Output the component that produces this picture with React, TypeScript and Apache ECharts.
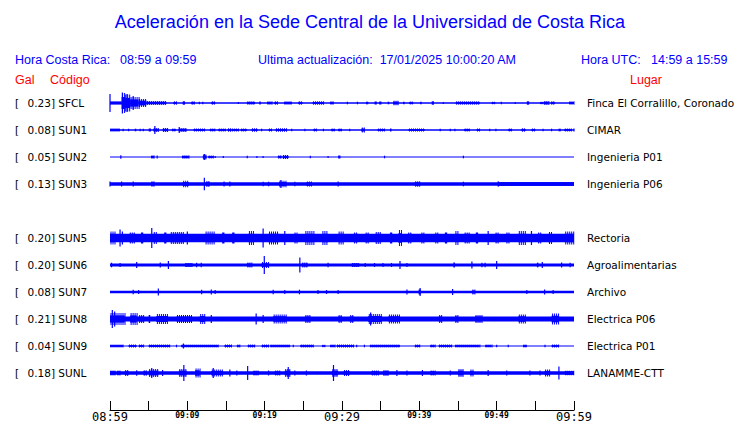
import React, { useEffect, useRef } from "react";
import * as echarts from "echarts";

// ---------- data ----------
const title = "Aceleración en la Sede Central de la Universidad de Costa Rica";
const localLabel = "Hora Costa Rica:";
const localRange = "08:59 a 09:59";
const updatedLabel = "Ultima actualización:  17/01/2025 10:00:20 AM";
const utcLabel = "Hora UTC:";
const utcRange = "14:59 a 15:59";
const startClock = [8, 59]; // hh, mm
const spanMinutes = 60;

const codes = ["SFCL", "SUN1", "SUN2", "SUN3", "SUN5", "SUN6", "SUN7", "SUN8", "SUN9", "SUNL"];
const peakGal = [0.23, 0.08, 0.05, 0.13, 0.2, 0.2, 0.08, 0.21, 0.04, 0.18];
const places = [
  "Finca El Corralillo, Coronado",
  "CIMAR",
  "Ingenieria P01",
  "Ingenieria P06",
  "Rectoria",
  "Agroalimentarias",
  "Archivo",
  "Electrica P06",
  "Electrica P01",
  "LANAMME-CTT",
];
// background noise half-amplitude of every trace
const baseAmp = [0.7, 0.7, 0.5, 1.7, 4.2, 1.5, 1.3, 2.5, 0.5, 1.7];

// bursts: [start minute, end minute, half amplitude]
const sfcl = [
  [0, 0, 9], [0, 1.5, 2], [1.5, 1.9, 10], [1.6, 1.6, 10.5], [1.9, 2.6, 8.5], [2.2, 2.2, 9], [2.6, 3.7, 6], [3.0, 3.0, 7],
  [3.7, 4.7, 4], [4.7, 7.3, 2], [8.2, 8.6, 1.7], [9.4, 9.7, 1.7], [10.5, 10.9, 1.7], [11.55, 11.55, 1.3], [12.0, 12.0, 1.3],
  [13.1, 13.6, 1.7], [16.6, 16.6, 1], [17.7, 18.75, 1.7], [19.3, 19.5, 1.5], [20.3, 20.9, 1.7], [21.25, 21.7, 1.7],
  [22.5, 23.5, 1.7], [24.35, 24.9, 1.7], [26.2, 27.6, 1.7], [28.45, 28.9, 1.7], [30.7, 30.7, 1.3], [32.0, 32.0, 1.3],
  [33.1, 33.4, 1.3], [34.2, 34.5, 1.5], [34.8, 35.1, 1.5], [35.9, 36.1, 1.3], [36.6, 37.3, 2.3], [37.9, 38.1, 1.3],
  [38.7, 39.2, 1.5], [40.1, 40.3, 1.3], [41.6, 41.9, 1.7], [43.1, 43.1, 1], [44.7, 47.8, 1.7], [49.35, 49.7, 1.3],
  [50.6, 50.6, 1.3], [52.4, 52.4, 1], [53.9, 54.2, 1.7], [55.6, 56.0, 1.3], [56.1, 56.7, 2], [57.0, 57.5, 1.7], [59.35, 60, 1.7],
];
const sun1 = [
  [0, 1.3, 1.7], [1.7, 1.7, 1.3], [2.4, 2.4, 1.3], [3.2, 3.4, 1.3], [3.9, 3.9, 1.3], [4.3, 4.3, 1.3], [5.0, 5.3, 1.5],
  [5.6, 6.2, 2], [5.8, 5.8, 4], [6.8, 7.5, 2], [8.0, 8.5, 1.5], [8.9, 9.9, 2], [8.95, 8.95, 3], [10.8, 12.3, 1.5],
  [12.9, 13.6, 1.5], [14.0, 15.0, 1.5], [15.2, 15.65, 1.7], [15.7, 16.6, 1.5], [16.9, 17.7, 1.5], [18.3, 19.1, 1.7],
  [19.6, 19.6, 1.3], [20.5, 20.9, 1.5], [21.4, 22.8, 1.7], [23.5, 23.5, 1.3], [25.2, 25.2, 1.3], [26.3, 26.7, 1.5],
  [27.6, 27.6, 1.3], [28.6, 29.1, 1.5], [29.5, 30.0, 1.5], [31.0, 31.0, 1.3], [32.5, 32.9, 2.5], [34.6, 35.5, 1.5],
  [36.2, 36.4, 1.5], [38.6, 40.7, 1.5], [42.7, 42.7, 1.3], [44.0, 44.0, 1.3], [44.6, 44.6, 1.3], [45.8, 46.55, 1.5],
  [47.4, 47.8, 1.5], [49.1, 49.1, 1.3], [49.9, 49.9, 1.3], [51.5, 52.0, 1.5], [53.2, 53.75, 1.7], [54.5, 55.0, 1.5],
  [56.0, 56.0, 1.3], [57.1, 57.1, 1.3], [58.0, 58.3, 1.3], [58.75, 59.7, 1.5], [60, 60, 1.5],
];
const sun2 = [
  [1.4, 1.4, 1.7], [5.3, 5.7, 1.7], [6.1, 6.1, 1.5], [9.3, 10.2, 1.7], [12.0, 12.5, 2.5], [12.2, 12.2, 3], [12.7, 13.4, 1.5],
  [13.6, 13.6, 1], [14.65, 14.65, 1], [17.75, 17.75, 1.3], [19.0, 19.0, 1], [19.8, 19.8, 1], [21.7, 22.2, 1.7],
  [22.3, 23.1, 2], [25.9, 25.9, 1.3], [28.2, 28.2, 1], [29.5, 29.8, 1.5], [35.5, 35.5, 1.3], [45.7, 45.7, 1.3],
];
const sun3 = [
  [0, 0, 2.5], [1.5, 1.5, 2.5], [3.0, 3.0, 2.5], [5.3, 5.7, 2.7], [9.4, 10.2, 3.3], [12.2, 12.2, 6.3], [12.4, 12.9, 3],
  [14.75, 14.75, 2.5], [15.5, 15.5, 2.5], [19.8, 19.8, 2.3], [20.5, 20.5, 2.3], [21.85, 22.8, 3.3], [22.1, 22.1, 4],
  [23.9, 23.9, 2.3], [25.4, 26.1, 2.5], [29.5, 29.5, 2.5], [39.4, 40.1, 2.7], [45.7, 45.7, 2.3], [50.2, 50.2, 2.7], [50.2, 60, 2],
];
const sun5 = [
  [0, 0.65, 6.5], [1.3, 1.3, 8.5], [1.6, 1.6, 6.5], [2.5, 3.2, 5.5], [4.0, 4.3, 5.5], [5.4, 5.4, 10], [5.6, 6.0, 6],
  [7.0, 7.3, 5.5], [7.8, 9.5, 6], [10.0, 10.0, 6.5], [12.3, 13.6, 6.5], [14.5, 14.8, 5.5], [15.8, 16.1, 5.5],
  [17.9, 18.5, 7], [19.8, 19.8, 9.5], [20.5, 21.8, 6.5], [22.6, 22.6, 7], [23.8, 24.2, 5.5], [25.2, 26.3, 7],
  [27.4, 28.2, 7], [29.5, 30.2, 6.5], [31.5, 32.0, 5.5], [33.0, 33.4, 5.5], [34.3, 35.1, 6], [36.2, 36.5, 5.5],
  [37.3, 37.7, 8], [38.5, 39.0, 5.5], [40.2, 40.6, 5.5], [42.0, 42.4, 5.5], [43.3, 43.6, 5.5], [44.6, 45.0, 7],
  [45.8, 46.5, 5.5], [47.3, 47.6, 5.5], [48.9, 48.9, 7], [49.8, 50.3, 5.5], [51.2, 51.6, 5.5], [52.8, 53.7, 7],
  [54.5, 54.5, 7], [55.3, 55.8, 5.5], [56.7, 57.2, 6], [58.8, 60, 6.5],
];
const sun6 = [
  [0.2, 0.2, 2.3], [1.3, 1.3, 2], [3.45, 3.45, 3], [6.5, 6.5, 2.5], [7.55, 7.55, 4], [9.7, 10.6, 2], [11.2, 11.2, 2.3],
  [11.8, 11.8, 2.3], [17.7, 18.3, 2.5], [19.6, 20.5, 3], [19.95, 19.95, 9], [24.55, 24.55, 7.5], [24.8, 25.6, 2.5],
  [28.2, 28.2, 2.3], [31.25, 32.1, 2], [33.0, 33.0, 2], [34.2, 34.2, 2], [35.3, 35.3, 2], [36.4, 36.4, 2], [37.5, 37.5, 4],
  [38.4, 38.4, 2], [44.4, 44.6, 2.5], [46.8, 46.8, 3.5], [48.1, 48.1, 2.3], [48.5, 48.5, 2.3], [50.0, 50.0, 4],
  [55.2, 55.4, 2.3], [55.9, 55.9, 3], [58.4, 58.4, 2.5], [59.5, 59.5, 2.3],
];
const sun7 = [
  [3.0, 3.0, 2.3], [3.7, 3.7, 2], [6.25, 6.25, 3.5], [11.85, 11.85, 2.3], [13.1, 13.1, 2.5], [13.6, 13.6, 2],
  [21.1, 21.1, 2.3], [22.6, 22.6, 2], [24.5, 24.5, 2.3], [26.9, 26.9, 2], [28.0, 28.0, 2], [29.5, 29.5, 2],
  [38.4, 38.4, 2.5], [39.9, 40.2, 2.5], [40.1, 40.1, 4], [44.3, 44.3, 3], [46.8, 47.2, 2.5], [53.9, 53.9, 2],
  [56.2, 56.2, 2.5], [57.3, 57.3, 2],
];
const sun8 = [
  [0, 1.9, 6], [0.3, 0.3, 9], [0.6, 0.6, 7.5], [2.6, 3.45, 6], [3.7, 4.3, 4], [5.0, 5.2, 4], [6.0, 7.5, 5], [8.6, 10.6, 4],
  [11.6, 12.3, 5], [13.1, 13.1, 4], [18.9, 18.9, 5.5], [19.8, 19.8, 4], [21.1, 22.8, 4.5], [25.2, 25.9, 4],
  [29.5, 30.0, 4], [31.0, 31.5, 4], [33.4, 35.1, 5], [33.7, 33.7, 6.5], [36.0, 37.5, 4.5], [42.5, 42.9, 4],
  [44.6, 45.0, 4], [47.2, 48.1, 4], [52.8, 53.7, 4.5], [57.1, 58.0, 5.5],
];
const sun9 = [
  [0, 1.7, 1.5], [2.4, 3.45, 1.5], [3.7, 4.3, 1.5], [5.0, 7.75, 1.5], [8.6, 8.6, 1.3], [9.2, 14.0, 1.5], [9.5, 9.5, 2.5],
  [14.8, 15.65, 1.5], [16.4, 16.8, 1.5], [17.8, 18.75, 1.5], [19.6, 20.5, 1.5], [20.7, 23.3, 1.5], [23.7, 23.7, 1.3],
  [24.6, 26.3, 1.5], [27.4, 27.8, 1.3], [28.45, 29.1, 1.5], [29.3, 31.5, 1.5], [31.9, 31.9, 1.3], [32.9, 32.9, 1.3],
  [33.6, 37.5, 1.5], [39.4, 40.1, 1.5], [41.4, 42.0, 1.5], [42.5, 44.2, 1.5], [44.6, 47.8, 1.5], [48.5, 49.35, 1.5],
  [50.0, 50.0, 1.3], [51.5, 51.5, 1.3], [53.4, 53.9, 1.5], [56.25, 56.25, 1.3], [57.1, 58.0, 1.5],
];
const sunl = [
  [0, 0.65, 2.5], [0.9, 1.3, 2.5], [1.9, 2.4, 3], [3.45, 3.45, 2.7], [4.3, 4.75, 2.7], [5.0, 6.25, 4], [5.4, 5.4, 5],
  [6.8, 6.8, 3], [8.9, 9.9, 4], [9.55, 9.55, 8], [11.0, 11.6, 4.5], [13.1, 14.65, 3.5], [13.35, 13.35, 5], [15.5, 15.5, 3.5],
  [16.4, 16.4, 2.5], [17.8, 17.8, 7], [18.5, 19.2, 2.5], [20.5, 20.5, 2.5], [21.3, 22.0, 2.5], [22.6, 23.3, 4],
  [23.05, 23.05, 6], [23.9, 23.9, 2.5], [25.4, 25.4, 2.5], [28.7, 29.5, 4], [28.9, 28.9, 8], [30.2, 31.0, 3],
  [33.8, 34.7, 2.5], [35.3, 36.0, 3], [37.1, 37.1, 3], [38.4, 38.4, 2.5], [40.4, 40.4, 3], [41.4, 42.0, 2.5],
  [44.0, 44.0, 2.5], [45.0, 45.7, 4], [46.55, 47.0, 3.5], [48.9, 48.9, 3], [51.3, 51.3, 2.5], [54.3, 54.3, 2.5],
  [55.6, 55.6, 2.5], [56.2, 56.9, 3.5], [58.05, 58.05, 6.5], [58.8, 60, 2.3],
];
const bursts = [sfcl, sun1, sun2, sun3, sun5, sun6, sun7, sun8, sun9, sunl];

// ---------- layout constants ----------
const W = 740;
const H = 423;
const ROW = 27;
const BLUE = "#0000ff";
const RED = "#ff0000";
const SANS = "'Liberation Sans', Arial, Helvetica, sans-serif";
const DEJAVU = "'DejaVu Sans', sans-serif";
const MONO = "'DejaVu Sans Mono', monospace";

const rowSlot = (i: number) => (i < 4 ? i : i + 1) * ROW; // blank slot after the 4th trace

function clock(m: number) {
  const t = startClock[0] * 60 + startClock[1] + m;
  const hh = Math.floor(t / 60) % 24;
  const mm = t % 60;
  return `${String(hh).padStart(2, "0")}:${String(mm).padStart(2, "0")}`;
}

export default function App() {
  const ref = useRef<HTMLDivElement>(null);

  useEffect(() => {
    if (!ref.current) return;
    const chart = echarts.init(ref.current, undefined, { renderer: "svg" });

    const traceSeries = bursts.map((list, i) => ({
      type: "custom",
      name: codes[i],
      silent: true,
      // first item: continuous background trace; others: bursts
      data: [[0, spanMinutes, baseAmp[i], rowSlot(i), 0], ...list.map((b) => [b[0], b[1], b[2], rowSlot(i), 1])],
      encode: { x: [0, 1], y: 3 },
      renderItem: (params: any, api: any) => {
        const s = api.coord([api.value(0), api.value(3)]);
        const e = api.coord([api.value(1), api.value(3)]);
        const h = Math.max(api.size([0, api.value(2)])[1], 0.5);
        const isBurst = api.value(4) === 1;
        const span = e[0] - s[0];
        if (!isBurst || span < 2.5) {
          const w = Math.max(span, 1.2);
          return {
            type: "rect",
            shape: { x: s[0] - (span < 1.2 ? 0.6 : 0), y: s[1] - h, width: w, height: 2 * h },
            style: { fill: BLUE },
          };
        }
        // burst drawn as a dense comb of oscillation strokes around a filled core
        const base = Math.max(api.size([0, baseAmp[i]])[1], 0.5);
        const core = Math.max(base, h * 0.6);
        const children: any[] = [
          { type: "rect", shape: { x: s[0], y: s[1] - core, width: span, height: 2 * core }, style: { fill: BLUE } },
        ];
        for (let x = s[0] + 0.5; x <= e[0]; x += 2) {
          children.push({
            type: "rect",
            shape: { x, y: s[1] - h, width: 1, height: 2 * h },
            style: { fill: BLUE },
          });
        }
        return { type: "group", children };
      },
    }));

    const labelSeries = {
      type: "custom",
      silent: true,
      data: codes.map((_, i) => [0, rowSlot(i)]),
      encode: { x: 0, y: 1 },
      renderItem: (params: any, api: any) => {
        const i = params.dataIndex;
        const y = api.coord([0, api.value(1)])[1];
        const st = (text: string, x: number) => ({
          type: "text",
          style: { text, x, y, fill: "#000", font: `10.5px ${DEJAVU}`, verticalAlign: "middle", textVerticalAlign: "middle" },
        });
        return {
          type: "group",
          children: [st("[", 15), st(`${peakGal[i].toFixed(2)}] ${codes[i]}`, 27.5), st(places[i], 587)],
        };
      },
    };

    const txt = (text: string, x: number, y: number, fill: string, size: number, align = "left") => ({
      type: "text",
      silent: true,
      style: {
        text,
        x,
        y,
        fill,
        font: `${size}px ${SANS}`,
        align,
        textAlign: align,
        verticalAlign: "middle",
        textVerticalAlign: "middle",
      },
    });

    chart.setOption({
      animation: false,
      backgroundColor: "#ffffff",
      grid: { left: 110, right: W - 574, top: 88, bottom: H - 410 },
      xAxis: {
        type: "value",
        min: 0,
        max: spanMinutes,
        interval: 5,
        splitLine: { show: false },
        axisLine: { show: true, onZero: false, lineStyle: { color: "#000", width: 1 } },
        axisTick: { show: true, inside: true, length: 9, lineStyle: { color: "#000", width: 1 } },
        axisLabel: {
          show: true,
          margin: 1,
          showMinLabel: true,
          showMaxLabel: true,
          formatter: (v: number) => {
            if (v % 10 !== 0) return "";
            return v % 30 === 0 ? `{big|${clock(v)}}` : `{small|${clock(v)}}`;
          },
          rich: {
            big: { fontFamily: MONO, fontSize: 12, lineHeight: 11, color: "#000" },
            small: { fontFamily: MONO, fontSize: 8, fontWeight: "bold", lineHeight: 8, color: "#000" },
          },
        },
      },
      yAxis: { type: "value", inverse: true, min: -15, max: 307, show: false },
      graphic: [
        txt(title, 370, 22, BLUE, 18, "center"),
        txt(localLabel, 15, 60, BLUE, 12.5),
        txt(localRange, 120, 60, BLUE, 12.5),
        txt(updatedLabel, 387, 60, BLUE, 12.5, "center"),
        txt(utcLabel, 581, 60, BLUE, 12.5),
        txt(utcRange, 651, 60, BLUE, 12.5),
        txt("Gal", 15, 80, RED, 12.5),
        txt("Código", 50, 80, RED, 12.5),
        txt("Lugar", 630, 80, RED, 12.5),
      ],
      series: [...traceSeries, labelSeries],
    });

    return () => chart.dispose();
  }, []);

  return (
    <div
      ref={ref}
      style={{ position: "absolute", left: 0, top: 0, width: W, height: H, background: "#fff" }}
    />
  );
}
